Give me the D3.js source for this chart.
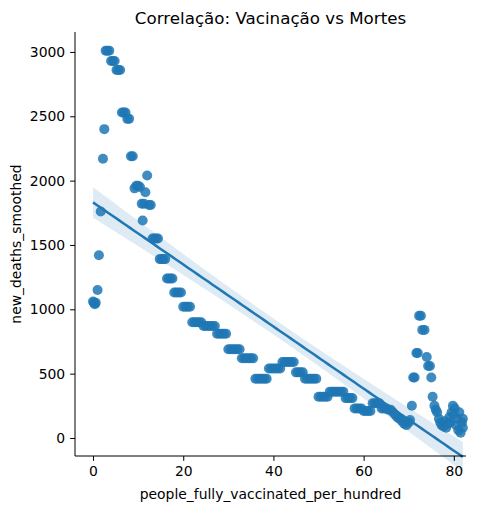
<!DOCTYPE html>
<html><head><meta charset="utf-8">
<script src="https://cdn.jsdelivr.net/npm/d3@7"></script>
<style>body{margin:0;background:#fff}text{font-family:"DejaVu Sans",sans-serif}</style>
</head><body>
<svg id="c" width="490" height="512"></svg>
<script>
// vaccination (x) vs deaths (y)
const xs = [0,0.2,0.4,0.6,1,1.3,1.7,2.2,2.5,2.8,3.2,3.6,4,4.4,4.8,5.2,5.6,6,6.4,6.8,7.2,7.6,8,8.4,8.8,9.2,9.6,10,10.4,10.8,11,11.3,11.6,12,12.4,12.8,13.2,13.6,14,14.4,14.8,15.2,15.6,16,16.4,16.8,17.2,17.6,18,18.5,19,19.5,20,20.5,21,21.5,22,22.5,23,23.5,24,24.5,25,25.5,26,26.5,27,27.5,28,28.5,29,29.5,30,30.5,31,31.5,32,32.5,33,33.5,34,34.5,35,35.5,36,36.5,37,37.5,38,38.5,39,39.5,40,40.5,41,41.5,42,42.5,43,43.5,44,44.5,45,45.5,46,46.5,47,47.5,48,48.5,49,49.5,50,50.5,51,51.5,52,52.5,53,53.5,54,54.5,55,55.5,56,56.5,57,57.5,58,58.5,59,59.5,60,60.5,61,61.5,62,62.5,63,63.5,64,64.5,65,65.5,66,66.5,67,67.5,68,68.5,69,69.5,70,70.3,70.7,71,71.3,71.7,72,72.3,72.7,73,73.5,74,74.3,74.7,75,75.3,75.7,76,76.3,76.7,77,77.3,77.7,78,78.3,78.7,79,79.2,79.5,79.8,80,80.2,80.5,80.8,81,81.2,81.5,81.8,82,82];
const ys = [1060,1050,1040,1050,1150,1420,1760,2170,2400,3010,3010,3010,2930,2930,2930,2860,2860,2860,2530,2530,2530,2480,2480,2190,2190,1940,1960,1960,1950,1820,1690,1820,1910,2040,1810,1810,1550,1550,1550,1550,1390,1390,1390,1390,1240,1240,1240,1240,1130,1130,1130,1130,1020,1020,1020,1020,900,900,900,900,900,870,870,870,870,870,870,810,810,810,810,810,690,690,690,690,690,690,620,620,620,620,620,620,460,460,460,460,460,460,540,540,540,540,540,540,590,590,590,590,590,590,510,510,510,510,460,460,460,460,460,460,320,320,320,320,320,360,360,360,360,360,360,360,310,310,310,310,230,230,230,230,210,210,210,210,270,270,270,270,230,230,230,220,220,200,180,160,150,130,110,100,120,140,250,470,470,660,660,950,950,840,840,630,560,560,470,320,250,220,200,150,120,100,90,130,80,110,160,120,200,250,180,230,100,150,60,200,40,120,80,150,20,100,60,10];
const xTicks = [0,20,40,60,80];
const yTicks = [0,500,1000,1500,2000,2500,3000];
const color = "#1f77b4";

const svg = d3.select("#c");
const L = 75, R = 466, T = 32, B = 456;
const x = d3.scaleLinear().domain([-4, 82.7]).range([L, R]);
const y = d3.scaleLinear().domain([-140, 3155]).range([B, T]);

// least-squares fit and 95% CI band
const n = xs.length, mx = d3.mean(xs), my = d3.mean(ys);
let sxx = 0, sxy = 0;
xs.forEach((v, i) => { sxx += (v - mx) ** 2; sxy += (v - mx) * (ys[i] - my); });
const b = sxy / sxx, a = my - b * mx;
let sse = 0; xs.forEach((v, i) => { sse += (ys[i] - a - b * v) ** 2; });
const s = Math.sqrt(sse / (n - 2));
const xr = d3.range(100).map(i => d3.min(xs) + i * (d3.max(xs) - d3.min(xs)) / 99);
const band = xr.map(v => { const h = 1.97 * s * Math.sqrt(1 / n + (v - mx) ** 2 / sxx); return {v, lo: a + b * v - h, hi: a + b * v + h}; });

svg.selectAll("circle").data(xs).join("circle")
  .attr("cx", d => x(d)).attr("cy", (d, i) => y(ys[i])).attr("r", 5)
  .attr("fill", color).attr("opacity", 0.85);

svg.append("path").datum(band)
  .attr("d", d3.area().x(d => x(d.v)).y0(d => y(d.lo)).y1(d => y(d.hi)))
  .attr("fill", color).attr("opacity", 0.15);
svg.append("path").datum(xr)
  .attr("d", d3.line().x(d => x(d)).y(d => y(a + b * d)))
  .attr("stroke", color).attr("stroke-width", 2.5).attr("fill", "none");

const gx = svg.append("g").attr("transform", `translate(0,${B})`).call(d3.axisBottom(x).tickValues(xTicks).tickFormat(d3.format("d")).tickSize(4.9).tickPadding(4.9));
const gy = svg.append("g").attr("transform", `translate(${L},0)`).call(d3.axisLeft(y).tickValues(yTicks).tickFormat(d3.format("d")).tickSize(4.9).tickPadding(4.9));
[gx, gy].forEach(g => {
  g.selectAll("text").attr("font-size", 13.9).attr("fill", "#000").style("font-family", "DejaVu Sans");
  g.select(".domain").attr("d", g === gx ? `M${L},0H${R}` : `M0,${B}V${T}`).attr("stroke", "#000");
});
svg.append("text").attr("x", (L + R) / 2).attr("y", 24).attr("text-anchor", "middle").attr("font-size", 16.7).text("Correlação: Vacinação vs Mortes");
svg.append("text").attr("x", (L + R) / 2).attr("y", 499).attr("text-anchor", "middle").attr("font-size", 13.9).text("people_fully_vaccinated_per_hundred");
svg.append("text").attr("transform", `translate(21,${(T + B) / 2}) rotate(-90)`).attr("text-anchor", "middle").attr("font-size", 13.9).text("new_deaths_smoothed");
</script>
</body></html>
